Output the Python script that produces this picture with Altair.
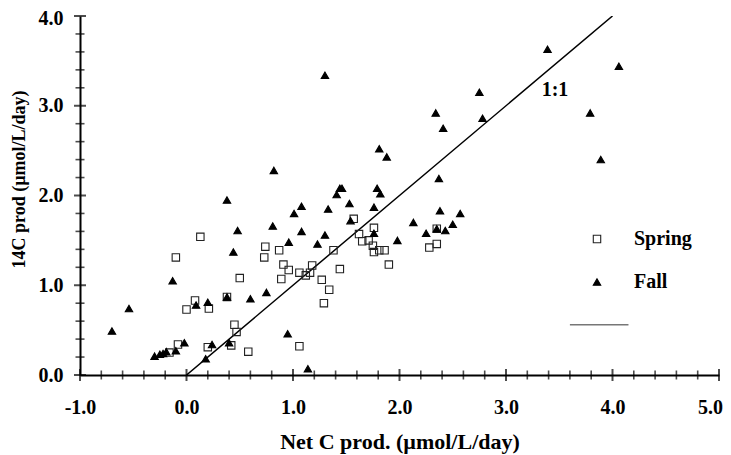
import altair as alt
import pandas as pd

# ---------------- data ----------------
fall_x = [0.38, 0.48, 0.44, -0.54, -0.70, -0.13, 0.09, 0.20, 0.38, -0.30, -0.25, -0.22, -0.19, -0.10,
          -0.02, 0.18, 0.24, 0.40,
          1.30, 0.82, 1.81, 1.88, 1.44, 1.46, 1.41, 1.79, 1.82,
          1.08, 1.01, 1.33, 1.53, 1.76, 1.54, 0.81, 1.08, 1.30, 1.76, 2.13, 2.25, 0.96, 1.23, 1.98,
          0.60, 0.75, 0.95, 1.14,
          3.39, 4.06, 2.75, 2.34, 2.41, 2.78, 3.79, 3.89, 2.37,
          2.38, 2.57, 2.50, 2.35, 2.43]
fall_y = [1.95, 1.61, 1.37, 0.74, 0.49, 1.05, 0.78, 0.81, 0.87, 0.21, 0.23, 0.24, 0.26, 0.27,
          0.36, 0.18, 0.34, 0.36,
          3.34, 2.28, 2.52, 2.43, 2.08, 2.08, 2.01, 2.08, 2.02,
          1.88, 1.80, 1.85, 1.91, 1.87, 1.72, 1.66, 1.60, 1.56, 1.58, 1.70, 1.58, 1.48, 1.46, 1.50,
          0.85, 0.92, 0.46, 0.07,
          3.63, 3.44, 3.15, 2.92, 2.75, 2.86, 2.92, 2.40, 2.19,
          1.83, 1.80, 1.68, 1.63, 1.61]

spring_x = [0.13, -0.10, 0.50, 0.08, 0.00, 0.21, 0.38, 0.45, 0.47, -0.08, -0.16, 0.20, 0.42,
            1.57, 1.76, 1.62, 1.65, 1.71, 1.75, 1.76, 1.81, 1.86, 1.90, 1.38, 0.74, 0.73, 0.87,
            0.91, 0.96, 0.89, 1.06, 1.12, 1.16, 1.18, 1.27, 1.34, 1.29, 1.44, 0.58, 1.06, 2.28,
            2.35, 2.35]
spring_y = [1.54, 1.31, 1.08, 0.83, 0.73, 0.74, 0.87, 0.56, 0.48, 0.34, 0.25, 0.31, 0.33,
            1.74, 1.64, 1.57, 1.49, 1.50, 1.44, 1.37, 1.39, 1.39, 1.23, 1.39, 1.43, 1.31, 1.39,
            1.23, 1.17, 1.07, 1.14, 1.11, 1.14, 1.22, 1.06, 0.95, 0.80, 1.18, 0.26, 0.32, 1.42,
            1.63, 1.46]

series_names = ["Spring", "Fall"]

x_major = [-1, 0, 1, 2, 3, 4, 5]
x_minor = [-0.8, -0.6, -0.4, -0.2, 0.2, 0.4, 0.6, 0.8, 1.2, 1.4, 1.6, 1.8, 2.2, 2.4, 2.6, 2.8,
           3.2, 3.4, 3.6, 3.8, 4.2, 4.4, 4.6, 4.8]
y_major = [0, 1, 2, 3, 4]
y_minor = [0.2, 0.4, 0.6, 0.8, 1.2, 1.4, 1.6, 1.8, 2.2, 2.4, 2.6, 2.8, 3.2, 3.4, 3.6, 3.8]

one_to_one_x = [0, 4]
one_to_one_y = [0, 4]
line_label = ["1:1"]
line_label_x = [3.46]
line_label_y = [3.18]
legend_line_x = [3.60, 4.15]
legend_line_y = [0.56, 0.56]

x_title = "Net C prod. (µmol/L/day)"
y_title = "14C prod (µmol/L/day)"

FONT = "Liberation Serif"

# ---------------- tables ----------------
pts = pd.concat([
    pd.DataFrame({"x": spring_x, "y": spring_y, "series": "Spring"}),
    pd.DataFrame({"x": fall_x, "y": fall_y, "series": "Fall"}),
], ignore_index=True)

xs = alt.Scale(domain=[-1, 5], nice=False, zero=False)
ys = alt.Scale(domain=[0, 4], nice=False, zero=False)

label_expr = "datum.value < 0 ? '-' + format(-datum.value, '.1f') : format(datum.value, '.1f')"

leg = alt.Legend(title=None)

points = alt.Chart(pts).mark_point(filled=True, size=55, strokeWidth=1.1, opacity=1).encode(
    x=alt.X("x:Q", scale=xs, title=x_title,
            axis=alt.Axis(values=x_major, labelExpr=label_expr, tickSize=0, grid=False,
                          domainColor="black", domainWidth=2, labelPadding=22, labelFlush=False,
                          labelOffset={"condition": {"test": "datum.value == 5", "value": -9}, "value": 0},
                          titlePadding=14, titleFontSize=22)),
    y=alt.Y("y:Q", scale=ys, title=y_title,
            axis=alt.Axis(values=y_major, labelExpr=label_expr, tickSize=0, grid=False,
                          domainColor="black", domainWidth=2, labelPadding=17, labelFlush=False,
                          labelOffset={"condition": {"test": "datum.value == 4", "value": 2}, "value": 0},
                          titlePadding=10, titleFontSize=18, titleY=163)),
    shape=alt.Shape("series:N", scale=alt.Scale(domain=series_names, range=["square", "triangle-up"]), legend=leg),
    fill=alt.Fill("series:N", scale=alt.Scale(domain=series_names, range=["transparent", "black"]), legend=leg),
    stroke=alt.Stroke("series:N", scale=alt.Scale(domain=series_names, range=["#222222", "black"]), legend=leg),
    order=alt.Order("series:N", sort="descending"),
)

line_df = pd.DataFrame({"x": one_to_one_x, "y": one_to_one_y})
ref_line = alt.Chart(line_df).mark_line(color="black", strokeWidth=1.5, clip=True).encode(
    x=alt.X("x:Q", scale=xs), y=alt.Y("y:Q", scale=ys))

lbl_df = pd.DataFrame({"x": line_label_x, "y": line_label_y, "t": line_label})
ref_label = alt.Chart(lbl_df).mark_text(font=FONT, fontSize=20, fontWeight="bold", color="black").encode(
    x=alt.X("x:Q", scale=xs), y=alt.Y("y:Q", scale=ys), text="t:N")

leg_line_df = pd.DataFrame({"x": legend_line_x, "y": legend_line_y})
leg_line = alt.Chart(leg_line_df).mark_line(color="#777777", strokeWidth=1.5).encode(
    x=alt.X("x:Q", scale=xs), y=alt.Y("y:Q", scale=ys))

# crossing ticks
xmaj = alt.Chart(pd.DataFrame({"v": x_major})).mark_tick(orient="vertical", size=12, thickness=2, color="black").encode(
    x=alt.X("v:Q", scale=xs), y=alt.datum(0, scale=ys))
xmin = alt.Chart(pd.DataFrame({"v": x_minor})).mark_tick(orient="vertical", size=9, thickness=1.6, color="black").encode(
    x=alt.X("v:Q", scale=xs), y=alt.datum(0, scale=ys))
ymaj = alt.Chart(pd.DataFrame({"v": y_major})).mark_tick(orient="horizontal", size=12, thickness=2, color="black").encode(
    y=alt.Y("v:Q", scale=ys), x=alt.datum(-1, scale=xs))
ymin = alt.Chart(pd.DataFrame({"v": y_minor})).mark_tick(orient="horizontal", size=9, thickness=1.6, color="black").encode(
    y=alt.Y("v:Q", scale=ys), x=alt.datum(-1, scale=xs))

chart = alt.layer(ref_line, leg_line, points, ref_label, xmaj, xmin, ymaj, ymin).properties(
    width=639, height=359,
    autosize=alt.AutoSizeParams(type="none"),
    padding={"left": 72, "top": 8, "right": 4, "bottom": 79},
).configure_view(stroke=None).configure_axis(
    labelFont=FONT, labelFontSize=20, labelFontWeight="bold", labelColor="black",
    titleFont=FONT, titleFontWeight="bold", titleColor="black",
).configure_legend(
    orient="none", legendX=507, legendY=213, labelFont=FONT, labelFontSize=20,
    labelFontWeight="bold", labelColor="black", symbolSize=55, labelOffset=27,
    rowPadding=23, symbolStrokeWidth=1.1, padding=0,
)

chart.save("out.html", embed_options={"renderer": "svg", "actions": False})
